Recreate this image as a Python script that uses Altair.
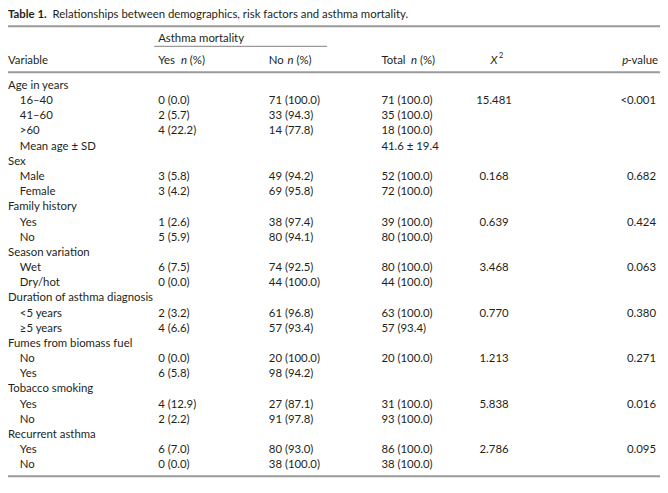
import altair as alt
import pandas as pd

title_bold = "Table 1."
title_rest = "Relationships between demographics, risk factors and asthma mortality."
group_header = "Asthma mortality"

variables = ["Age in years", "16–40", "41–60", ">60", "Mean age ± SD",
             "Sex", "Male", "Female",
             "Family history", "Yes", "No",
             "Season variation", "Wet", "Dry/hot",
             "Duration of asthma diagnosis", "<5 years", "≥5 years",
             "Fumes from biomass fuel", "No", "Yes",
             "Tobacco smoking", "Yes", "No",
             "Recurrent asthma", "Yes", "No"]
is_group = [1, 0, 0, 0, 0, 1, 0, 0, 1, 0, 0, 1, 0, 0, 1, 0, 0, 1, 0, 0, 1, 0, 0, 1, 0, 0]
yes_n = ["", "0 (0.0)", "2 (5.7)", "4 (22.2)", "", "", "3 (5.8)", "3 (4.2)",
         "", "1 (2.6)", "5 (5.9)", "", "6 (7.5)", "0 (0.0)", "", "2 (3.2)", "4 (6.6)",
         "", "0 (0.0)", "6 (5.8)", "", "4 (12.9)", "2 (2.2)", "", "6 (7.0)", "0 (0.0)"]
no_n = ["", "71 (100.0)", "33 (94.3)", "14 (77.8)", "", "", "49 (94.2)", "69 (95.8)",
        "", "38 (97.4)", "80 (94.1)", "", "74 (92.5)", "44 (100.0)", "", "61 (96.8)", "57 (93.4)",
        "", "20 (100.0)", "98 (94.2)", "", "27 (87.1)", "91 (97.8)", "", "80 (93.0)", "38 (100.0)"]
total_n = ["", "71 (100.0)", "35 (100.0)", "18 (100.0)", "41.6 ± 19.4", "", "52 (100.0)", "72 (100.0)",
           "", "39 (100.0)", "80 (100.0)", "", "80 (100.0)", "44 (100.0)", "", "63 (100.0)", "57 (93.4)",
           "", "20 (100.0)", "", "", "31 (100.0)", "93 (100.0)", "", "86 (100.0)", "38 (100.0)"]
chi2 = ["", "15.481", "", "", "", "", "0.168", "", "", "0.639", "", "", "3.468", "",
        "", "0.770", "", "", "1.213", "", "", "5.838", "", "", "2.786", ""]
p_value = ["", "<0.001", "", "", "", "", "0.682", "", "", "0.424", "", "", "0.063", "",
           "", "0.380", "", "", "0.271", "", "", "0.016", "", "", "0.095", ""]

df = pd.DataFrame({
    "row": list(range(len(variables))),
    "variable": variables,
    "group": is_group,
    "yes": yes_n,
    "no": no_n,
    "total": total_n,
    "chi2": chi2,
    "p": p_value,
})

FONT = "Lato"
SIZE = 11.5
INK = "#231f20"
RULE = "#9a9a9a"

base = alt.Chart(df)
yenc = alt.Y("row:Q", scale=alt.Scale(domain=[0, 25], range=[76, 460], nice=False, zero=False), axis=None)


def col_text(field, x, align="left", flt=None):
    c = base
    if flt is not None:
        c = c.transform_filter(flt)
    return c.mark_text(align=align, baseline="middle", font=FONT, fontSize=SIZE, color=INK).encode(
        x=alt.value(x), y=yenc, text=f"{field}:N")


layers = [
    col_text("variable", 0, flt="datum.group == 1"),
    col_text("variable", 12, flt="datum.group == 0"),
    col_text("yes", 152),
    col_text("no", 264),
    col_text("total", 378),
    col_text("chi2", 492, align="center"),
    col_text("p", 656, align="right"),
]

hdr = pd.DataFrame({"k": [0]})
hb = alt.Chart(hdr)


def htext(txt, x, y, align="left", italic=False, bold=False, size=SIZE, baseline="middle"):
    kw = dict(align=align, baseline=baseline, font=FONT, fontSize=size, color=INK, text=txt)
    if italic:
        kw["fontStyle"] = "italic"
    if bold:
        kw["fontWeight"] = "bold"
    return hb.mark_text(**kw).encode(x=alt.value(x), y=alt.value(y))


def hrule(x1, x2, y, w, color=RULE):
    return hb.mark_rule(color=color, strokeWidth=w).encode(
        x=alt.value(x1), x2=alt.value(x2), y=alt.value(y))


header_layers = [
    htext(title_bold, 0, 4, bold=True, size=11.5),
    htext(title_rest, 45, 4, size=11.5),
    hrule(0, 660, 15.5, 2),
    htext(group_header, 152, 28),
    hrule(148, 323, 36, 1.3),
    htext("Variable", 0, 51),
    htext("Yes", 152, 51), htext("n", 175, 51, italic=True), htext("(%)", 184, 51),
    htext("No", 264, 51), htext("n", 283, 51, italic=True), htext("(%)", 292, 51),
    htext("Total", 378, 51), htext("n", 408, 51, italic=True), htext("(%)", 417, 51),
    htext("X", 492, 51, align="center", italic=True), htext("2", 497, 46, size=7.5),
    htext("-value", 658, 51, align="right"), htext("p", 628, 51, align="right", italic=True),
    hrule(0, 660, 62, 2),
    hrule(0, 660, 471, 2),
]

chart = alt.layer(*header_layers, *layers).properties(
    width=660, height=480, padding=0, autosize=alt.AutoSizeParams(type="none"),
    background="white"
).configure_view(stroke=None)

chart.save("out.html", embed_options={"renderer": "svg", "actions": False})
